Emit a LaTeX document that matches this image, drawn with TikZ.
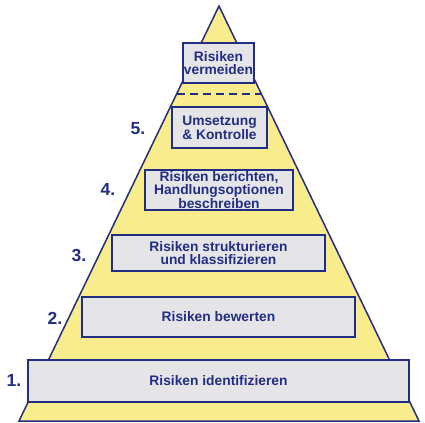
\documentclass[tikz,border=0pt]{standalone}
\usepackage{fontspec}
\setmainfont{Liberation Sans}
\usetikzlibrary{calc}
\definecolor{navy}{RGB}{35,45,130}
\definecolor{pyellow}{RGB}{248,236,140}
\definecolor{boxgray}{RGB}{229,229,232}
\begin{document}
\begin{tikzpicture}[x=1bp,y=-1bp,
  stage/.style={draw=navy, line width=1.6bp, fill=boxgray, text=navy, inner sep=0pt,
    font=\fontsize{13.8bp}{12.5bp}\selectfont\bfseries, align=center},
  numlabel/.style={text=navy, inner sep=0pt, font=\fontsize{17.5bp}{19bp}\selectfont\bfseries}]
\useasboundingbox (0,0) rectangle (425,423);
% pyramid
\coordinate (apex) at (219,6);
\coordinate (bl) at (19,421);
\coordinate (br) at (419,421);
\draw[navy, line width=1.5bp, fill=pyellow, line join=miter] (apex) -- (br) -- (bl) -- cycle;
% dashed line
\coordinate (dl) at ($(apex)!0.2119!(bl)$);
\coordinate (dr) at ($(apex)!0.2119!(br)$);
\draw[navy, line width=1.5bp, dash pattern=on 8bp off 5bp] (dl) -- (dr);
% boxes
\node[stage, minimum width=381bp, minimum height=42bp] (s1) at (218.5,381) {Risiken identifizieren};
\node[stage, minimum width=273bp, minimum height=40bp] (s2) at (218.5,317) {Risiken bewerten};
\node[stage, minimum width=213bp, minimum height=36bp] (s3) at (218.5,253) {Risiken strukturieren\\und klassifizieren};
\node[stage, minimum width=148bp, minimum height=40bp, font=\fontsize{13.8bp}{12bp}\selectfont\bfseries] (s4) at (219,190) {Risiken berichten,\\Handlungsoptionen\\beschreiben};
\node[stage, minimum width=95bp, minimum height=41bp] (s5) at (219.5,127.5) {Umsetzung\\\& Kontrolle};
\node[stage, minimum width=71bp, minimum height=40bp] (s6) at (218.5,63) {Risiken\\vermeiden};
% numbers
\node[numlabel] (n1) at (14,380) {1.};
\node[numlabel] (n2) at (55,318) {2.};
\node[numlabel] (n3) at (79,255) {3.};
\node[numlabel] (n4) at (108,189) {4.};
\node[numlabel] (n5) at (138,129) {5.};
\end{tikzpicture}
\end{document}
